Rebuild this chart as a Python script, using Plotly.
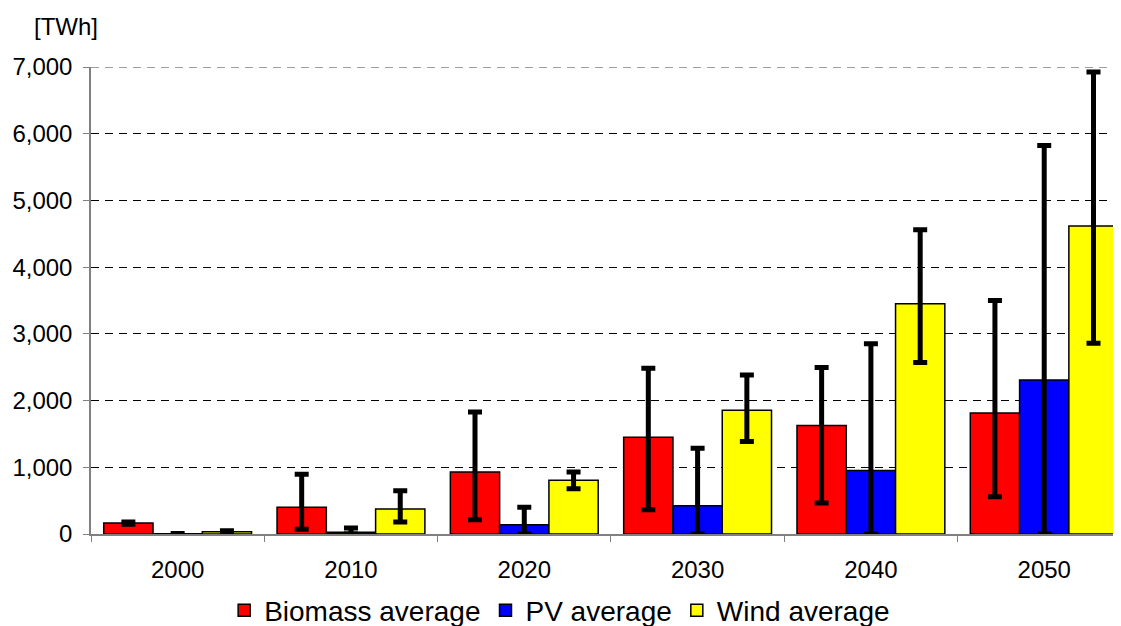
import plotly.graph_objects as go

years = ["2000", "2010", "2020", "2030", "2040", "2050"]

biomass = [165, 400, 930, 1450, 1625, 1815]
biomass_hi = [180, 895, 1830, 2485, 2495, 3500]
biomass_lo = [148, 70, 215, 365, 465, 560]

pv = [3, 25, 140, 425, 950, 2310]
pv_hi = [8, 90, 400, 1285, 2850, 5825]
pv_lo = [0, 0, 0, 0, 0, 0]

wind = [33, 375, 805, 1855, 3450, 4615]
wind_hi = [48, 650, 930, 2385, 4560, 6925]
wind_lo = [22, 180, 680, 1385, 2570, 2860]

y_max = 7000

series = [
    ("Biomass average", biomass, biomass_hi, biomass_lo, "#FF0000"),
    ("PV average", pv, pv_hi, pv_lo, "#0000FF"),
    ("Wind average", wind, wind_hi, wind_lo, "#FFFF00"),
]

fig = go.Figure()
for name, vals, hi, lo, col in series:
    fig.add_trace(go.Bar(
        x=years, y=vals, name=name,
        marker=dict(color=col, line=dict(color="black", width=1.5)),
        error_y=dict(
            type="data", symmetric=False,
            array=[h - v for h, v in zip(hi, vals)],
            arrayminus=[v - l for v, l in zip(vals, lo)],
            color="black", thickness=5, width=7,
        ),
    ))

fig.update_layout(
    width=1113, height=618,
    margin=dict(l=83, r=0, t=59, b=92, autoexpand=False),
    paper_bgcolor="white", plot_bgcolor="white",
    barmode="group", bargap=0.147, bargroupgap=0,
    font=dict(family="Liberation Sans, Arial, sans-serif", color="black", size=24),
    showlegend=True,
    legend=dict(
        orientation="h", x=0.455, xanchor="center", y=-0.164, yanchor="middle",
        font=dict(size=28), itemwidth=30, tracegroupgap=0,
        traceorder="normal", bgcolor="rgba(0,0,0,0)",
    ),
    xaxis=dict(
        type="category", range=[-0.5, 5.443],
        tickson="boundaries", ticks="outside", ticklen=6, tickcolor="#808080",
        showline=True, linecolor="#808080", linewidth=1.5,
        showgrid=False, tickfont=dict(size=24),
        ticklabelstandoff=13,
    ),
    yaxis=dict(
        range=[0, y_max], tickvals=[0, 1000, 2000, 3000, 4000, 5000, 6000, 7000],
        tickformat=",", ticks="outside", ticklen=6, tickcolor="#808080",
        showline=True, linecolor="#808080", linewidth=1.5,
        showgrid=True, gridcolor="#000000", gridwidth=1, griddash="8px,6px",
        zeroline=False, tickfont=dict(size=24),
        ticklabelstandoff=6,
    ),
    shapes=[dict(
        type="line", xref="paper", x0=0, x1=1, yref="y", y0=y_max, y1=y_max,
        line=dict(color="#808080", width=1.5, dash="8px,6px"), layer="below",
    )],
    annotations=[dict(
        text="[TWh]", xref="paper", yref="paper", x=-0.0243, y=1.0857,
        xanchor="center", yanchor="middle", showarrow=False,
        font=dict(size=24),
    )],
)

fig.write_html("out.html")
